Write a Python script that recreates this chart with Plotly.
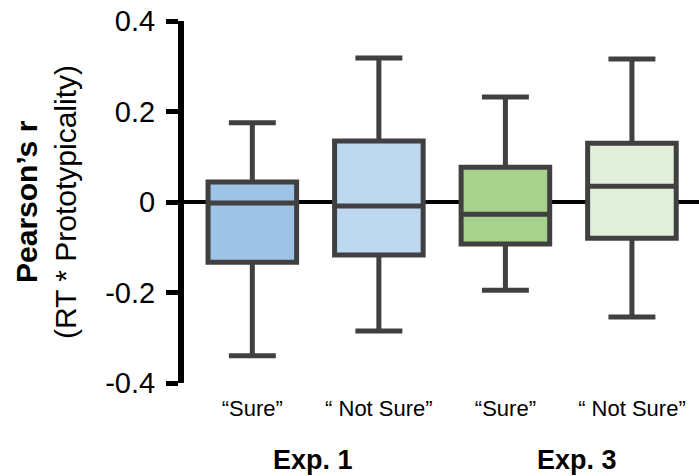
import plotly.graph_objects as go

categories = ["c1", "c2", "c3", "c4"]
tick_labels = ["\u201cSure\u201d", "\u201c Not Sure\u201d", "\u201cSure\u201d", "\u201c Not Sure\u201d"]
group_labels = ["Exp. 1", "Exp. 3"]
group_pos = [0.477, 2.565]
upper = [0.175, 0.318, 0.232, 0.316]
q3 = [0.044, 0.135, 0.077, 0.130]
median = [-0.002, -0.009, -0.027, 0.035]
q1 = [-0.133, -0.117, -0.093, -0.080]
lower = [-0.340, -0.285, -0.195, -0.254]
fills = ["#9DC3E6", "#BDD7EE", "#A9D18E", "#E2EFDA"]

FONT = "Arial, 'Liberation Sans', sans-serif"

fig = go.Figure()
for i, c in enumerate(categories):
    fig.add_trace(go.Box(
        x=[c], q1=[q1[i]], median=[median[i]], q3=[q3[i]],
        lowerfence=[lower[i]], upperfence=[upper[i]],
        fillcolor=fills[i], line=dict(color="#404040", width=5),
        width=0.7, whiskerwidth=0.53, boxpoints=False, showlegend=False,
        hoverinfo="skip",
    ))

fig.update_layout(
    width=699, height=476,
    margin=dict(l=184, r=0, t=21, b=93),
    plot_bgcolor="white", paper_bgcolor="white",
    font=dict(family=FONT, color="black"),
    xaxis=dict(
        type="category", categoryorder="array", categoryarray=categories,
        range=[-0.54, 3.53], tickvals=categories, ticktext=tick_labels,
        showline=False, showgrid=False, zeroline=False, ticks="",
        tickfont=dict(size=22, family=FONT), ticklabelstandoff=10,
    ),
    yaxis=dict(
        range=[-0.4, 0.4], tickvals=[-0.4, -0.2, 0, 0.2, 0.4],
        ticktext=["-0.4", "-0.2", "0", "0.2", "0.4"],
        showline=True, linecolor="black", linewidth=6,
        ticks="outside", ticklen=12, tickwidth=5, tickcolor="black",
        showgrid=False, zeroline=True, zerolinecolor="black", zerolinewidth=4,
        tickfont=dict(size=29, family=FONT), ticklabelstandoff=5,
    ),
)

fig.add_annotation(text="<b>Pearson\u2019s r</b>", xref="paper", yref="paper",
                   x=-184/515 + 26/515, y=0.5, textangle=-90, showarrow=False,
                   font=dict(size=30, family=FONT), xanchor="center", yanchor="middle")
fig.add_annotation(text="(RT * Prototypicality)", xref="paper", yref="paper",
                   x=-184/515 + 65/515, y=0.5, textangle=-90, showarrow=False,
                   font=dict(size=30, family=FONT), xanchor="center", yanchor="middle")

for j, g in enumerate(group_labels):
    fig.add_annotation(text="<b>" + g + "</b>", x=group_pos[j], xref="x",
                       y=-(460 - 383) / 362, yref="paper", showarrow=False,
                       font=dict(size=27, family=FONT), xanchor="center", yanchor="middle")

fig.write_html("out.html", config={"displayModeBar": False},
               post_script="document.body.style.margin='0';document.body.style.overflow='hidden';")
